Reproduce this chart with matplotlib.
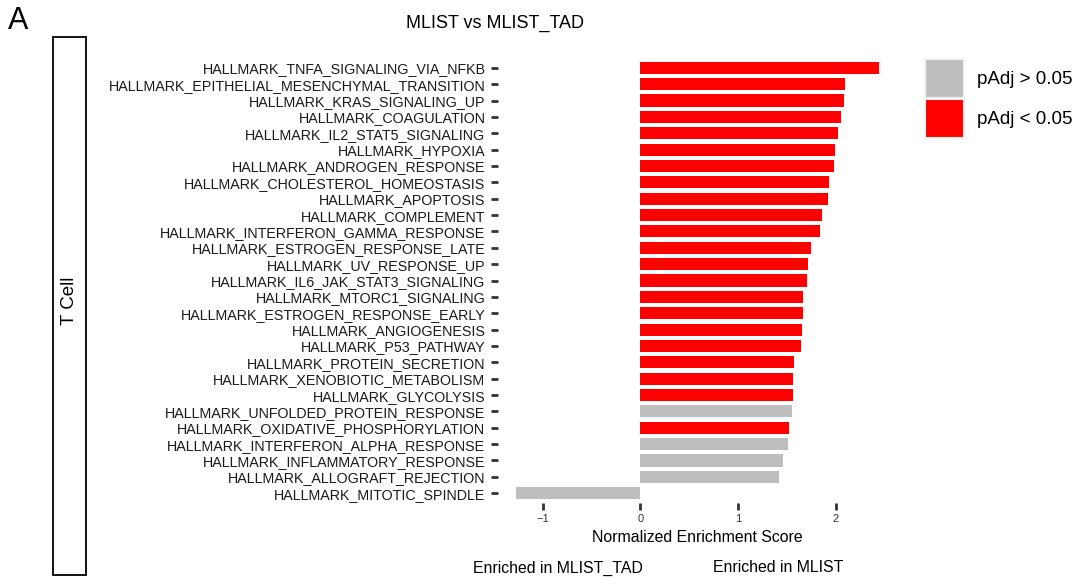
import matplotlib.pyplot as plt
from matplotlib.patches import Patch, Rectangle

plt.rcParams['font.family'] = ['Liberation Sans', 'DejaVu Sans']

# gene sets, top to bottom
pathways = [
    'HALLMARK_TNFA_SIGNALING_VIA_NFKB',
    'HALLMARK_EPITHELIAL_MESENCHYMAL_TRANSITION',
    'HALLMARK_KRAS_SIGNALING_UP',
    'HALLMARK_COAGULATION',
    'HALLMARK_IL2_STAT5_SIGNALING',
    'HALLMARK_HYPOXIA',
    'HALLMARK_ANDROGEN_RESPONSE',
    'HALLMARK_CHOLESTEROL_HOMEOSTASIS',
    'HALLMARK_APOPTOSIS',
    'HALLMARK_COMPLEMENT',
    'HALLMARK_INTERFERON_GAMMA_RESPONSE',
    'HALLMARK_ESTROGEN_RESPONSE_LATE',
    'HALLMARK_UV_RESPONSE_UP',
    'HALLMARK_IL6_JAK_STAT3_SIGNALING',
    'HALLMARK_MTORC1_SIGNALING',
    'HALLMARK_ESTROGEN_RESPONSE_EARLY',
    'HALLMARK_ANGIOGENESIS',
    'HALLMARK_P53_PATHWAY',
    'HALLMARK_PROTEIN_SECRETION',
    'HALLMARK_XENOBIOTIC_METABOLISM',
    'HALLMARK_GLYCOLYSIS',
    'HALLMARK_UNFOLDED_PROTEIN_RESPONSE',
    'HALLMARK_OXIDATIVE_PHOSPHORYLATION',
    'HALLMARK_INTERFERON_ALPHA_RESPONSE',
    'HALLMARK_INFLAMMATORY_RESPONSE',
    'HALLMARK_ALLOGRAFT_REJECTION',
    'HALLMARK_MITOTIC_SPINDLE',
]
nes = [2.44, 2.09, 2.08, 2.05, 2.02, 1.99, 1.98, 1.93, 1.92, 1.86, 1.84, 1.75,
       1.72, 1.71, 1.66, 1.66, 1.65, 1.64, 1.57, 1.56, 1.56, 1.55, 1.52, 1.51,
       1.46, 1.42, -1.27]
significant = [True] * 21 + [False, True, False, False, False, False]

col_ns = '#BEBEBE'
col_sig = '#FF0000'

fig = plt.figure(figsize=(10.76, 5.82), dpi=100)
W, H = 1076, 582
ax = fig.add_axes([498 / W, 1 - 503 / H, (897 - 498) / W, (503 - 58) / H])

ypos = list(range(len(pathways)))
colors = [col_sig if s else col_ns for s in significant]
ax.barh(ypos, nes, height=0.74, color=colors)
ax.set_ylim(len(pathways) - 0.4, -0.6)
ax.set_xlim(-1.456, 2.626)
ax.set_yticks(ypos)
ax.set_yticklabels(pathways, fontsize=10.3, color='#1a1a1a')
ax.set_xticks([-1, 0, 1, 2])
ax.set_xticklabels(['\u22121', '0', '1', '2'], fontsize=8, color='#333333')
ax.tick_params(axis='both', length=5, width=2, color='#333333', pad=3)
ax.tick_params(axis='y', pad=4)
for s in ax.spines.values():
    s.set_visible(False)
ax.set_xlabel('Normalized Enrichment Score', fontsize=11.4, labelpad=4)

ax.set_title('MLIST vs MLIST_TAD', fontsize=13, x=(495 - 498) / (897 - 498), pad=22)

# legend
handles = [Patch(facecolor=col_ns, edgecolor='#F2F2F2', linewidth=1.5),
           Patch(facecolor=col_sig, edgecolor='#F2F2F2', linewidth=1.5)]
fig.legend(handles, ['pAdj > 0.05', 'pAdj < 0.05'], loc='upper left',
           bbox_to_anchor=(925 / W, 1 - 59 / H), frameon=False, fontsize=13.5,
           handlelength=2.1, handleheight=2.82, labelspacing=0.05,
           handletextpad=0.65, borderaxespad=0, borderpad=0)

# facet strip
fig.patches.append(Rectangle((53 / W, 1 - 575 / H), 33 / W, (575 - 37) / H,
                             transform=fig.transFigure, facecolor='white',
                             edgecolor='black', linewidth=1.3))
fig.text(70 / W, 1 - 301 / H, 'T Cell', rotation=90, ha='center', va='center',
         fontsize=13.5)
fig.text(8 / W, 1 - 21 / H, 'A', fontsize=22, ha='left', va='center')

fig.text(558 / W, 1 - 568 / H, 'Enriched in MLIST_TAD', fontsize=11.4,
         ha='center', va='center')
fig.text(778 / W, 1 - 568 / H, 'Enriched in MLIST', fontsize=11.4,
         ha='center', va='center')

fig.savefig('out.png', dpi=100)
